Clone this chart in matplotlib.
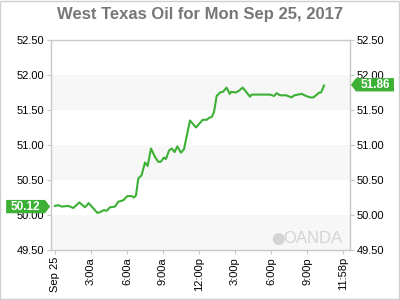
import numpy as np
import matplotlib.pyplot as plt
from matplotlib.patches import Polygon, Rectangle, Ellipse
from matplotlib.transforms import blended_transform_factory

plt.rcParams['font.family'] = ['Liberation Sans', 'DejaVu Sans']

# hours since Sep 25 00:00, price
hours = [0.0, 0.28, 0.56, 1.11, 1.53, 2.03, 2.5, 2.81, 3.53, 3.75, 4.08, 4.31,
         4.58, 5.0, 5.28, 5.69, 6.03, 6.39, 6.58, 6.75, 6.94, 7.22, 7.5, 7.72,
         8.0, 8.33, 8.61, 8.81, 9.08, 9.25, 9.5, 9.72, 9.97, 10.19, 10.5, 10.75,
         11.25, 11.75, 12.31, 12.64, 12.86, 13.06, 13.25, 13.47, 13.75, 14.0,
         14.3, 14.56, 14.69, 15.08, 15.36, 15.64, 15.97, 16.25, 16.39, 17.08,
         17.92, 18.25, 18.47, 18.75, 19.25, 19.72, 19.94, 20.56, 20.92, 21.25,
         21.53, 22.03, 22.17, 22.42]
prices = [50.13, 50.14, 50.12, 50.13, 50.10, 50.18, 50.11, 50.17, 50.03, 50.04,
          50.07, 50.06, 50.11, 50.12, 50.19, 50.21, 50.27, 50.27, 50.25, 50.28,
          50.52, 50.57, 50.75, 50.70, 50.95, 50.83, 50.76, 50.76, 50.82, 50.80,
          50.92, 50.95, 50.90, 50.98, 50.89, 50.94, 51.35, 51.25, 51.36, 51.36,
          51.39, 51.40, 51.47, 51.70, 51.75, 51.76, 51.82, 51.73, 51.76, 51.75,
          51.78, 51.82, 51.75, 51.69, 51.72, 51.72, 51.72, 51.70, 51.74, 51.71,
          51.71, 51.68, 51.71, 51.73, 51.70, 51.68, 51.68, 51.75, 51.75, 51.85]

tick_hours = [0, 3, 6, 9, 12, 15, 18, 21, 23.967]
tick_labels = ['Sep 25', '3:00a', '6:00a', '9:00a', '12:00p', '3:00p', '6:00p', '9:00p', '11:58p']
y_ticks = [49.5, 50.0, 50.5, 51.0, 51.5, 52.0, 52.5]
open_price = 50.12
last_price = 51.86

green = '#3cb034'
grid_gray = '#c8c8c8'

fig = plt.figure(figsize=(4, 3), dpi=100)
fig.patches.append(Rectangle((0.001, 0.003), 0.997, 0.995, transform=fig.transFigure,
                             fill=False, edgecolor='#d0d0d0', linewidth=1))
ax = fig.add_axes([0.1275, 0.1667, 0.7475, 0.7])
ax.set_xlim(-0.33, 24.58)
ax.set_ylim(49.5, 52.5)

# alternating bands
for lo in [49.5, 50.5, 51.5]:
    ax.axhspan(lo, lo + 0.5, color='#f7f7f7', lw=0, zorder=0)

ax.plot(hours, prices, color=green, lw=1.5, zorder=3)

for s in ax.spines.values():
    s.set_color(grid_gray)
    s.set_linewidth(1)

ax.set_yticks(y_ticks)
ax.set_yticklabels(['%.2f' % v for v in y_ticks])
ax.tick_params(axis='y', which='both', left=True, right=True, labelleft=True,
               labelright=True, length=3, color=grid_gray, labelsize=8,
               labelcolor='black', pad=2)
ax.set_xticks(tick_hours)
ax.set_xticklabels(tick_labels, rotation=90)
ax.tick_params(axis='x', length=3, color=grid_gray, labelsize=8, labelcolor='black', pad=2)

fig.text(0.5, 0.953, 'West Texas Oil for Mon Sep 25, 2017', ha='center', va='center',
         fontsize=12, fontweight='bold', color='#777777')

# OANDA watermark
ax.text(0.975, 0.02, 'OANDA', transform=ax.transAxes, ha='right', va='bottom',
        fontsize=12, color='#d4d4d4', zorder=1)
ax.add_patch(Ellipse((0.762, 0.052), 0.04, 0.057, transform=ax.transAxes,
                     facecolor='#d4d4d4', edgecolor='none', zorder=1))

# price tags
tr = blended_transform_factory(ax.transAxes, ax.transData)
h = 0.095
left_tag = [(-0.15, open_price - h), (-0.02, open_price - h), (-0.003, open_price),
            (-0.02, open_price + h), (-0.15, open_price + h)]
ax.add_patch(Polygon(left_tag, closed=True, transform=tr, clip_on=False,
                     facecolor=green, edgecolor='none', zorder=5))
ax.text(-0.086, open_price, '%.2f' % open_price, transform=tr, ha='center', va='center',
        color='white', fontsize=8.5, fontweight='bold', zorder=6, clip_on=False)
right_tag = [(1.003, last_price), (1.02, last_price + h), (1.147, last_price + h),
             (1.147, last_price - h), (1.02, last_price - h)]
ax.add_patch(Polygon(right_tag, closed=True, transform=tr, clip_on=False,
                     facecolor=green, edgecolor='none', zorder=5))
ax.text(1.085, last_price, '%.2f' % last_price, transform=tr, ha='center', va='center',
        color='white', fontsize=8.5, fontweight='bold', zorder=6, clip_on=False)

fig.savefig('out.png', dpi=100)
